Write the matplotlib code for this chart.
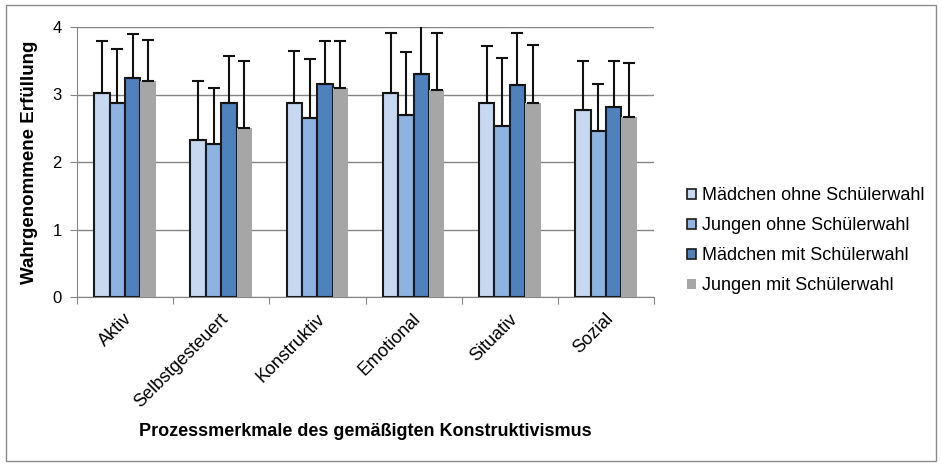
import matplotlib
matplotlib.use("Agg")
import matplotlib.pyplot as plt
import numpy as np
from matplotlib.patches import Rectangle

categories = ["Aktiv", "Selbstgesteuert", "Konstruktiv", "Emotional", "Situativ", "Sozial"]
series_names = ["Mädchen ohne Schülerwahl", "Jungen ohne Schülerwahl",
                "Mädchen mit Schülerwahl", "Jungen mit Schülerwahl"]
m_ohne = [3.02, 2.32, 2.88, 3.02, 2.88, 2.77]
j_ohne = [2.87, 2.27, 2.65, 2.69, 2.53, 2.46]
m_mit = [3.25, 2.88, 3.16, 3.30, 3.14, 2.81]
j_mit = [3.20, 2.51, 3.09, 3.06, 2.88, 2.67]
m_ohne_sd = [0.78, 0.88, 0.77, 0.89, 0.84, 0.72]
j_ohne_sd = [0.81, 0.83, 0.88, 0.94, 1.01, 0.70]
m_mit_sd = [0.65, 0.69, 0.64, 0.71, 0.77, 0.69]
j_mit_sd = [0.61, 0.99, 0.70, 0.85, 0.86, 0.79]

values = [m_ohne, j_ohne, m_mit, j_mit]
errs = [m_ohne_sd, j_ohne_sd, m_mit_sd, j_mit_sd]
colors = ["#C6D9F1", "#8DB3E2", "#4F81BD", "#A6A6A6"]
edges = ["#1a1a1a", "#1a1a1a", "#1a1a1a", "none"]

plt.rcParams['font.family'] = ['Liberation Sans', 'DejaVu Sans']

fig = plt.figure(figsize=(9.41, 4.66), dpi=100)
fig.patches.append(Rectangle((6/941, 5/466), 930/941, 456/466, transform=fig.transFigure,
                             fill=False, edgecolor="#8c8c8c", linewidth=1))
ax = fig.add_axes([77/941, 1-297/466, 577/941, 270/466])

x = np.arange(len(categories)) + 0.5
w = 0.16
for i, (vals, e) in enumerate(zip(values, errs)):
    pos = x + (i - 1.5) * w
    ax.bar(pos, vals, width=w, color=colors[i], edgecolor=edges[i],
           linewidth=1.5 if edges[i] != "none" else 0, label=series_names[i], zorder=3)
    ax.errorbar(pos, vals, yerr=[np.zeros(len(vals)), e], fmt="none", ecolor="#111111",
                elinewidth=1.5, capsize=4, capthick=1.5, zorder=4)

ax.set_xlim(0, len(categories))
ax.set_ylim(0, 4)
ax.set_yticks([0, 1, 2, 3, 4])
ax.set_yticklabels(["0", "1", "2", "3", "4"], fontsize=12)
ax.yaxis.grid(True, color="#868686", linewidth=1, zorder=0)
ax.set_axisbelow(True)
ax.set_xticks(np.arange(len(categories) + 1))
ax.set_xticklabels([])
ax.set_xticks(x + 0.05, minor=True)
ax.set_xticklabels(categories, minor=True, rotation=45, ha="right", va="center",
                   rotation_mode="anchor", fontsize=13)
ax.tick_params(axis="x", which="minor", length=0, pad=14)
ax.tick_params(axis="x", which="major", length=5, color="#868686")
ax.tick_params(axis="y", length=5, color="#868686", pad=6)
for s in ["top", "right"]:
    ax.spines[s].set_visible(False)
for s in ["left", "bottom"]:
    ax.spines[s].set_color("#868686")
ax.set_ylabel("Wahrgenommene Erfüllung", fontsize=13.5, fontweight="bold", labelpad=10)
fig.text(365/941, 1-432/466, "Prozessmerkmale des gemäßigten Konstruktivismus",
         ha="center", va="center", fontsize=13, fontweight="bold")

leg = fig.legend(loc="upper left", bbox_to_anchor=(680/941, 1-180/466), frameon=False,
                 fontsize=13, handlelength=0.5, handleheight=0.5, handletextpad=0.3,
                 labelspacing=0.72, borderaxespad=0)
for h in leg.legend_handles:
    h.set_linewidth(1.2)

fig.savefig("out.png", dpi=100)
